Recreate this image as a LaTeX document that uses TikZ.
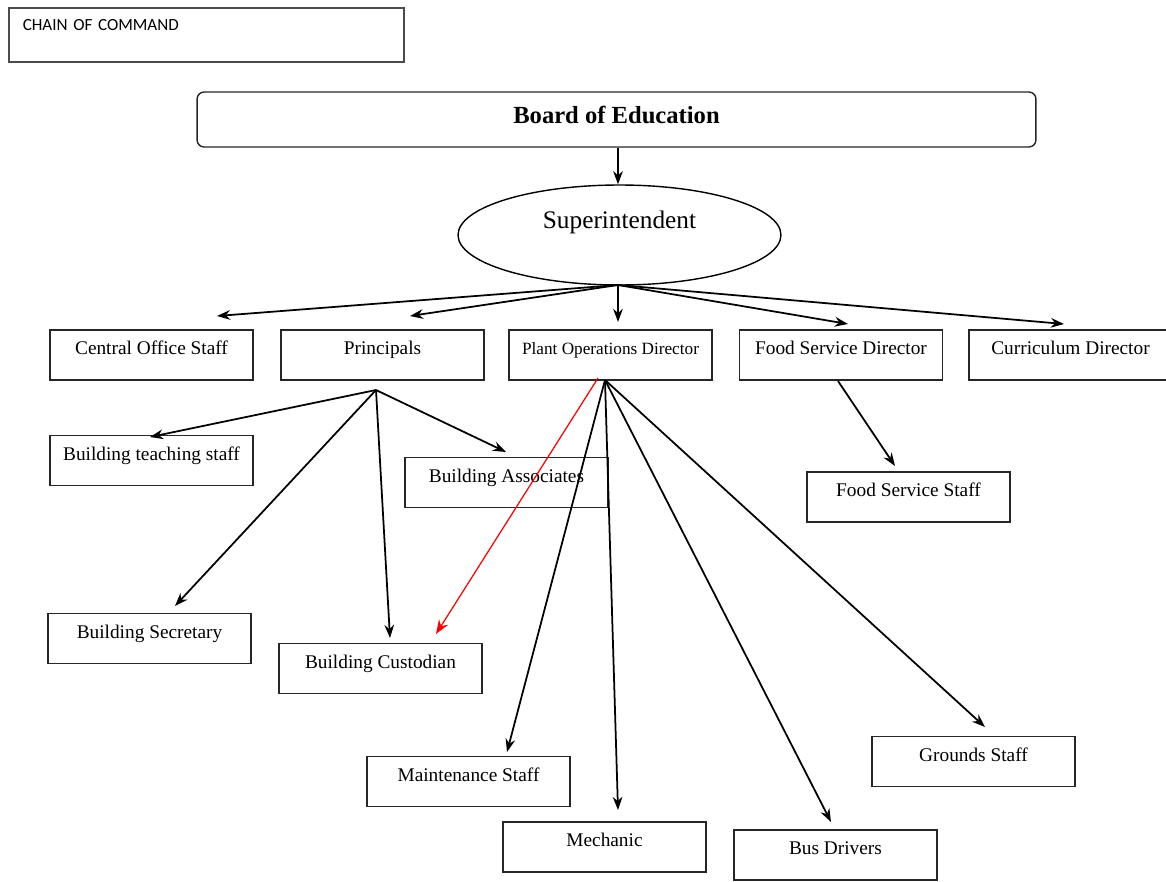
\documentclass[tikz,border=0pt]{standalone}
\usepackage{fontspec}
\setmainfont{Liberation Serif}
\newfontfamily\chainfont{Carlito}
\usetikzlibrary{shapes.geometric,arrows.meta}

\begin{document}
\begin{tikzpicture}[x=0.02cm,y=-0.02cm,
    post/.style={draw=black!85,line width=0.8pt,minimum width=4.06cm,minimum height=1cm,
      inner sep=0.1cm,text height=0.39cm,text depth=0.41cm,font=\fontsize{11}{13}\selectfont},
    link/.style={line width=1pt,-{Stealth[length=7.5pt,width=5.5pt]}},
    redlink/.style={red,line width=0.7pt,-{Stealth[length=8pt,width=6pt]}}]
    \useasboundingbox (0,0) rectangle (1166,882);

    % title and top of the chain
    \node[draw=black!70,line width=0.9pt,anchor=north west,text width=7.34cm,inner xsep=0.28cm,
      inner ysep=0.1cm,text height=0.36cm,text depth=0.52cm,font=\chainfont\fontsize{9.7}{11}\selectfont]
      (chain) at (8,7) {CHAIN OF COMMAND};
    \node[draw=black!85,line width=0.8pt,rounded corners=4pt,minimum width=16.78cm,minimum height=1.1cm,
      inner sep=0.1cm,text height=0.54cm,text depth=0.36cm,
      font=\fontsize{14}{16}\selectfont\bfseries] (board) at (616.5,119.5) {Board of Education};
    \node[draw,ellipse,line width=0.8pt,minimum width=6.46cm,minimum height=2cm,
      text height=0.34cm,text depth=0.62cm,font=\fontsize{14.4}{16}\selectfont] (supt) at (619.5,235) {Superintendent};

    % second row
    \node[post] (cos) at (151.5,355) {Central Office Staff};
    \node[post] (princ) at (382.5,355) {Principals};
    \node[post,font=\fontsize{9.8}{12}\selectfont] (plant) at (610.5,355) {Plant Operations Director};
    \node[post] (fsd) at (841,355) {Food Service Director};
    \node[post] (curr) at (1070.5,355) {Curriculum Director};

    % under the principals
    \node[post] (bts) at (151.5,460.5) {Building teaching staff};
    \node[post] (bassoc) at (506.5,482.5) {Building Associates};
    \node[post] (bsec) at (149.5,638.5) {Building Secretary};
    \node[post] (bcust) at (380.5,668.5) {Building Custodian};

    % under plant operations and food service
    \node[post] (maint) at (468.5,781.5) {Maintenance Staff};
    \node[post] (mech) at (604.5,847) {Mechanic};
    \node[post] (bus) at (835.5,855) {Bus Drivers};
    \node[post] (grounds) at (973.5,761.5) {Grounds Staff};
    \node[post] (fss) at (908.5,497) {Food Service Staff};

    % fan points and arrow tips
    \coordinate (sfan) at (618,285);
    \coordinate (pfan) at (376,390);
    \coordinate (ofan) at (605,380);
    \coordinate (rfan) at (598,378);
    \coordinate (ffan) at (838,381);
    \coordinate (t-cos) at (217,316);
    \coordinate (t-princ) at (410,316);
    \coordinate (t-plant) at (618,322);
    \coordinate (t-fsd) at (848,324);
    \coordinate (t-curr) at (1064,324);
    \coordinate (t-bts) at (150,437);
    \coordinate (t-bassoc) at (506,452);
    \coordinate (t-bsec) at (175,606);
    \coordinate (t-bcust) at (390,638);
    \coordinate (t-red) at (436,634);
    \coordinate (t-maint) at (507,752);
    \coordinate (t-mech) at (618,810);
    \coordinate (t-bus) at (831,822);
    \coordinate (t-grounds) at (985,727);
    \coordinate (t-fss) at (895,466);

    \draw[link] (board.south -| sfan) -- (supt.north -| sfan);
    \draw[link] (sfan) -- (t-cos);
    \draw[link] (sfan) -- (t-princ);
    \draw[link] (sfan) -- (t-plant);
    \draw[link] (sfan) -- (t-fsd);
    \draw[link] (sfan) -- (t-curr);

    \draw[link] (pfan) -- (t-bts);
    \draw[link] (pfan) -- (t-bassoc);
    \draw[link] (pfan) -- (t-bsec);
    \draw[link] (pfan) -- (t-bcust);

    \draw[link] (ofan) -- (t-maint);
    \draw[link] (ofan) -- (t-mech);
    \draw[link] (ofan) -- (t-bus);
    \draw[link] (ofan) -- (t-grounds);
    \draw[link] (ffan) -- (t-fss);

    \draw[redlink] (rfan) -- (t-red);
\end{tikzpicture}
\end{document}
